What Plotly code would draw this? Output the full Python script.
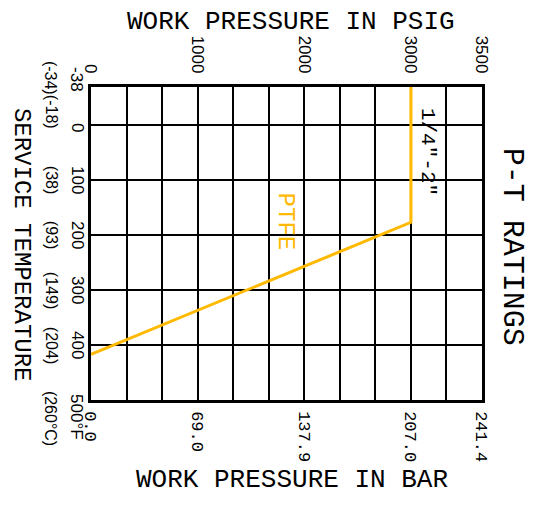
import plotly.graph_objects as go

# ---- data ----
psi_ticks = [0, 1000, 2000, 3000, 3500]
psi_labels = ["0", "1000", "2000", "3000", "3500"]
bar_labels = ["0.0", "69.0", "137.9", "207.0", "241.4"]
psi_grid = [333.33, 666.67, 1000, 1333.33, 1666.67, 2000, 2333.33, 2666.67, 3000, 3250]

temp_ticks = [-38, 0, 100, 200, 300, 400, 500]
temp_labels_f = ["-38", "0", "100", "200", "300", "400", "500°F"]
temp_labels_c = ["(-34)", "(-18)", "(38)", "(93)", "(149)", "(204)", "(260°C)"]
temp_grid = [0, 100, 200, 300, 400]

ptfe_psi = [3000, 3000, 0]
ptfe_temp = [-38, 177, 417]

ORANGE = "#FFB900"
FONT = "Liberation Mono"
TICKFONT = "Liberation Sans"


# axis scale of the drawing (non-uniform end segments)
def tx(p):
    return p if p <= 3000 else 3000 + (p - 3000) * 4.0 / 3.0


def ty(t):
    return t if t >= 0 else t * 69.0 / 38.0


fig = go.Figure()
fig.add_trace(go.Scatter(
    x=[tx(p) for p in ptfe_psi], y=[ty(t) for t in ptfe_temp],
    mode="lines", line=dict(color=ORANGE, width=3),
    xaxis="x", yaxis="y", showlegend=False, hoverinfo="skip"))
fig.add_trace(go.Scatter(
    x=[0], y=[0], mode="markers", marker=dict(opacity=0),
    xaxis="x2", yaxis="y", showlegend=False, hoverinfo="skip"))

xr = [0, tx(3500)]
yr = [500, ty(-38)]

fig.update_layout(
    width=541, height=506,
    margin=dict(l=83, r=67, t=79, b=114, pad=0),
    paper_bgcolor="white", plot_bgcolor="white",
    font=dict(family=FONT, color="black"),
    xaxis=dict(
        range=xr, tickvals=[tx(p) for p in psi_ticks], ticktext=bar_labels,
        tickangle=90, showgrid=False, zeroline=False, automargin=False,
        showline=True, linecolor="black", linewidth=2.5, mirror=True,
        ticks="", tickfont=dict(size=17, family=FONT), ticklabelstandoff=5,
        minor=dict(tickvals=[tx(p) for p in psi_grid], showgrid=True,
                   gridcolor="black", gridwidth=2, ticks=""),
    ),
    xaxis2=dict(
        range=xr, overlaying="x", side="top", matches="x",
        tickvals=[tx(p) for p in psi_ticks], ticktext=psi_labels,
        tickangle=90, showgrid=False, zeroline=False, ticks="", automargin=False,
        tickfont=dict(size=17, family=TICKFONT), ticklabelstandoff=10,
    ),
    yaxis=dict(
        range=yr, showticklabels=False, showgrid=False, zeroline=False,
        automargin=False, ticks="",
        showline=True, linecolor="black", linewidth=2.5, mirror=True,
        minor=dict(tickvals=[ty(t) for t in temp_grid], showgrid=True,
                   gridcolor="black", gridwidth=2, ticks=""),
    ),
)

f_shift = [7, -3, 0, 0, 0, 0, -17]
c_shift = [9, 13, 0, 0, 0, 0, -18]
for t, lf, lc, sf, sc in zip(temp_ticks, temp_labels_f, temp_labels_c, f_shift, c_shift):
    fig.add_annotation(x=-0.036, xref="paper", y=ty(t), yref="y", text=lf,
                       textangle=90, showarrow=False, yshift=sf,
                       xanchor="center", yanchor="middle",
                       font=dict(size=17, family=TICKFONT, color="black"))
    fig.add_annotation(x=-0.102, xref="paper", y=ty(t), yref="y", text=lc,
                       textangle=90, showarrow=False, yshift=sc,
                       xanchor="center", yanchor="middle",
                       font=dict(size=16, family=TICKFONT, color="black"))

titles = [
    ("WORK PRESSURE IN PSIG", 0.5115, 1.208, 0, 26),
    ("WORK PRESSURE IN BAR", 0.514, -0.256, 0, 26),
    ("SERVICE TEMPERATURE", -0.176, 0.495, 90, 24),
    ("P-T RATINGS", 1.077, 0.489, 90, 30),
]
for txt, x, y, ang, sz in titles:
    fig.add_annotation(x=x, y=y, xref="paper", yref="paper", text=txt,
                       textangle=ang, showarrow=False, borderpad=0,
                       xanchor="center", yanchor="middle",
                       font=dict(size=sz, family=FONT, color="black"))

fig.add_annotation(x=3151, y=49, xref="x", yref="y", text='1/4"-2"',
                   textangle=90, showarrow=False,
                   xanchor="center", yanchor="middle",
                   font=dict(size=21, family=FONT, color="black"))
fig.add_annotation(x=1825, y=175, xref="x", yref="y", text="PTFE",
                   textangle=90, showarrow=False,
                   xanchor="center", yanchor="middle",
                   font=dict(size=24, family=FONT, color=ORANGE))

fig.write_html("out.html")
